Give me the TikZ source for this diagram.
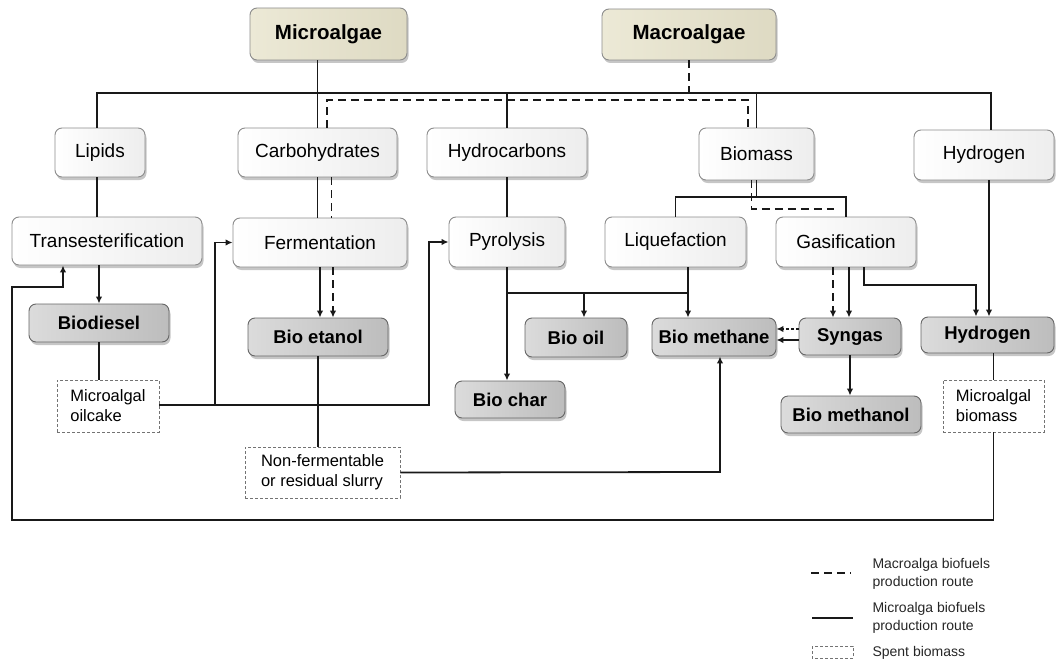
\documentclass[tikz,border=0pt]{standalone}
\usepackage{fontspec}
\setmainfont{Liberation Sans}
\usetikzlibrary{arrows.meta,shadows,calc}
\begin{document}
\begin{tikzpicture}[x=1pt,y=-1pt,
  conn/.style={line width=1.8pt, draw=black!90},
  macroroute/.style={conn, dash pattern=on 8pt off 5pt},
  arrowed/.style={-{Latex[length=7pt,width=6.5pt]}},
  basebox/.style={rounded corners=7pt, inner sep=0pt, line width=0.9pt,
    drop shadow={shadow xshift=1.5pt, shadow yshift=-3pt, opacity=0.45}},
  srcbox/.style={basebox, left color={rgb,255:red,236;green,233;blue,214}, right color={rgb,255:red,222;green,218;blue,195}, draw=black!45,
    font=\fontsize{20.5}{24}\selectfont\bfseries},
  stepbox/.style={basebox, left color=white, right color=black!7, draw=black!45,
    font=\fontsize{19}{23}\selectfont},
  fuelbox/.style={basebox, left color=black!14, right color=black!26, draw=black!60,
    font=\fontsize{18.5}{22}\selectfont\bfseries},
  spentbox/.style={draw=black!55, line width=0.9pt, dash pattern=on 3pt off 2pt,
    inner sep=0pt, align=left, font=\fontsize{16.5}{20}\selectfont},
  legtext/.style={anchor=west, align=left, text=black!85, font=\fontsize{14}{18}\selectfont}
]
\useasboundingbox (0,0) rectangle (1056,666);

% sources
\node[srcbox, minimum width=157pt, minimum height=52pt] (micro) at (328.5,34) {Microalgae};
\node[srcbox, minimum width=174pt, minimum height=51pt] (macro) at (689,34.5) {Macroalgae};

% row 2
\node[stepbox, minimum width=90pt, minimum height=49pt] (lipids) at (100,152.5) {Lipids};
\node[stepbox, minimum width=159pt, minimum height=49pt] (carbo) at (317.5,152.5) {Carbohydrates};
\node[stepbox, minimum width=160pt, minimum height=49pt] (hydroc) at (507,152.5) {Hydrocarbons};
\node[stepbox, minimum width=115pt, minimum height=52pt] (biomass) at (756.5,154) {Biomass};
\node[stepbox, minimum width=140pt, minimum height=50pt] (hydrogen1) at (984,155) {Hydrogen};

% row 3
\node[stepbox, minimum width=190pt, minimum height=48pt] (trans) at (107,241) {Transesterification};
\node[stepbox, minimum width=174pt, minimum height=49pt] (ferm) at (320,242.5) {Fermentation};
\node[stepbox, minimum width=116pt, minimum height=50pt] (pyro) at (507,242) {Pyrolysis};
\node[stepbox, minimum width=141pt, minimum height=50pt] (lique) at (675.5,242) {Liquefaction};
\node[stepbox, minimum width=140pt, minimum height=50pt] (gasif) at (846,242) {Gasification};

% products
\node[fuelbox, minimum width=140pt, minimum height=38pt] (biodiesel) at (99,323) {Biodiesel};
\node[fuelbox, minimum width=140pt, minimum height=38pt] (bioetanol) at (318,337) {Bio etanol};
\node[fuelbox, minimum width=102pt, minimum height=39pt] (biooil) at (576,337.5) {Bio oil};
\node[fuelbox, minimum width=124pt, minimum height=38pt] (biomethane) at (714,337) {Bio methane};
\node[fuelbox, minimum width=102pt, minimum height=37pt] (syngas) at (850,336.5) {Syngas};
\node[fuelbox, minimum width=133pt, minimum height=36pt] (hydrogen2) at (987.5,335) {Hydrogen};
\node[fuelbox, minimum width=110pt, minimum height=37pt] (biochar) at (510,399.5) {Bio char};
\node[fuelbox, minimum width=140pt, minimum height=37pt] (biomethanol) at (851,414.5) {Bio methanol};

% spent biomass
\node[spentbox, minimum width=102pt, minimum height=52pt] (oilcake) at (108,406) {Microalgal\\oilcake};
\node[spentbox, minimum width=155pt, minimum height=51pt] (slurry) at (322.5,472.5) {Non-fermentable\\or residual slurry};
\node[spentbox, minimum width=101pt, minimum height=52pt] (mbiomass) at (993.5,406) {Microalgal\\biomass};

% junction coordinates
\coordinate (busL) at (97,93);
\coordinate (busR) at (991,93);
\coordinate (dbL) at (327,100);
\coordinate (dbR) at (748,100);
\coordinate (bj) at (757,197);
\coordinate (gd) at (834,209);
\coordinate (lq) at (688,293);
\coordinate (oj) at (584,293);
\coordinate (hj) at (976,285);
\coordinate (fj) at (215,405);
\coordinate (pj) at (429,405);
\coordinate (mj) at (720,472);
\coordinate (loopB) at (12,520);
\coordinate (loopT) at (63,287);

% top bus
\draw[conn] (micro.south -| carbo.north) -- (carbo.north);
\draw[conn] (lipids.north -| busL) |- (busR) -- (busR |- hydrogen1.north);
\draw[conn] (hydroc.north) -- (hydroc.north |- busL);
\draw[conn] (biomass.north) -- (biomass.north |- busL);
\draw[macroroute] (carbo.north -| dbL) |- (dbR) -- (dbR |- biomass.north);
\draw[macroroute] (macro.south) -- (macro.south |- dbL);

% row 2 to row 3
\draw[conn] (lipids.south -| busL) -- (busL |- trans.north);
\draw[conn] (carbo.south) -- (carbo.south |- ferm.north);
\draw[macroroute] ($(carbo.south)+(14,0)$) -- ($(carbo.south |- ferm.north)+(14,0)$);
\draw[conn] (hydroc.south) -- (pyro.north);
\draw[conn] (biomass.south) -- (biomass.south |- bj);
\draw[conn] (lique.north) |- (bj) -| (gasif.north);
\draw[macroroute] ($(biomass.south)+(-5,0)$) |- (gd);

% row 3 to products
\draw[conn,arrowed] (trans.south -| biodiesel.north) -- (biodiesel.north);
\draw[conn,arrowed] (ferm.south) -- (ferm.south |- bioetanol.north);
\draw[macroroute,arrowed] ($(ferm.south)+(13,0)$) -- ($(ferm.south |- bioetanol.north)+(13,0)$);
\draw[conn,arrowed] (pyro.south) -- (pyro.south |- biochar.north);
\draw[conn] (lique.south -| lq) -- (lq) -- (lq -| pyro.south);
\draw[conn,arrowed] (oj) -- (oj |- biooil.north);
\draw[conn,arrowed] (lq) -- (lq |- biomethane.north);
\draw[macroroute,arrowed] ($(gasif.south)+(-13,0)$) -- ($(gasif.south |- syngas.north)+(-13,0)$);
\draw[conn,arrowed] ($(gasif.south)+(3,0)$) -- ($(gasif.south |- syngas.north)+(3,0)$);
\draw[conn,arrowed] ($(gasif.south)+(18,0)$) |- (hj) -- (hj |- hydrogen2.north);
\draw[conn,arrowed] ($(hydrogen1.south)+(5,0)$) -- ($(hydrogen1.south |- hydrogen2.north)+(5,0)$);

% syngas
\draw[conn,dash pattern=on 3pt off 2pt,arrowed] ($(syngas.west)+(0,-7.5)$) -- ($(biomethane.east |- syngas.west)+(0,-7.5)$);
\draw[conn,arrowed] ($(syngas.west)+(0,3.5)$) -- ($(biomethane.east |- syngas.west)+(0,3.5)$);
\draw[conn,arrowed] (syngas.south) -- (syngas.south |- biomethanol.north);

% spent biomass loops
\draw[conn] (biodiesel.south) -- (biodiesel.south |- oilcake.north);
\draw[conn,arrowed] (oilcake.east |- pj) -- (pj) |- (pyro.west);
\draw[conn,arrowed] (fj) |- (ferm.west);
\draw[conn] (bioetanol.south) -- (bioetanol.south |- slurry.north);
\draw[conn,arrowed] (slurry.east) -- (mj) -- (mj |- biomethane.south);
\draw[conn] (hydrogen2.south -| mbiomass.north) -- (mbiomass.north);
\draw[conn,arrowed] (mbiomass.south) -- (mbiomass.south |- loopB) -- (loopB) -- (loopB |- loopT) -- (loopT) -- (loopT |- trans.south);

% legend
\draw[conn, dash pattern=on 8pt off 5pt] (811,573) -- (851,573);
\node[legtext] (leg1) at (869,574) {Macroalga biofuels\\production route};
\draw[conn] (812,618) -- (853,618);
\node[legtext] (leg2) at (869,618) {Microalga biofuels\\production route};
\draw[draw=black!55, line width=0.9pt, dash pattern=on 3pt off 2pt] (812,646) rectangle (853,658);
\node[legtext] (leg3) at (869,653) {Spent biomass};
\end{tikzpicture}
\end{document}
